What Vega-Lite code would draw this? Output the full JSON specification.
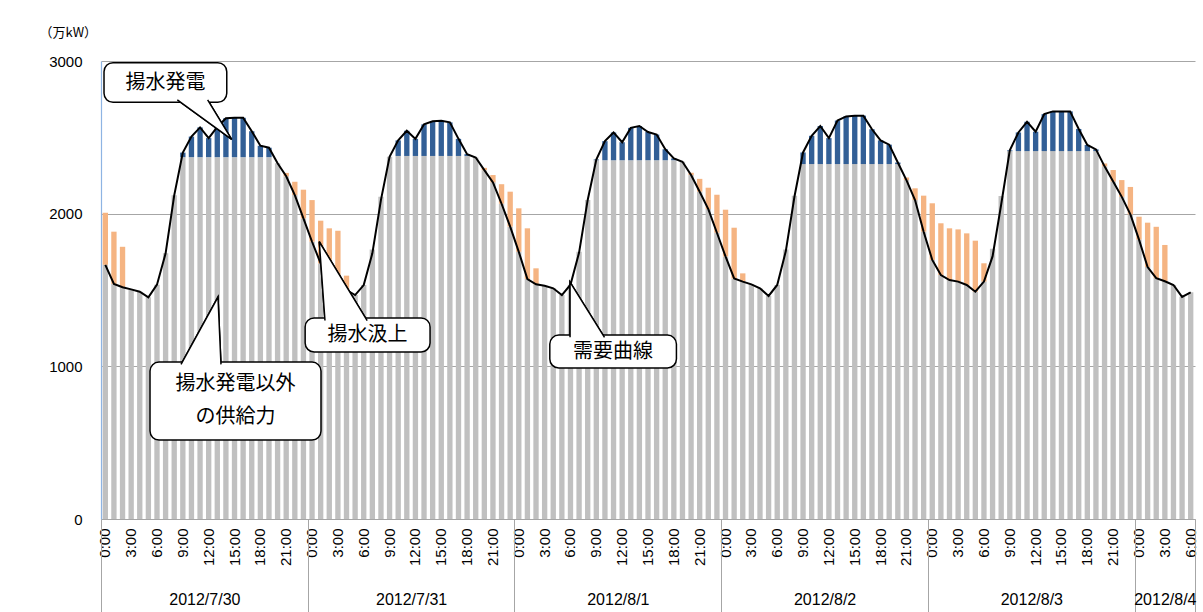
{
  "$schema": "https://vega.github.io/schema/vega-lite/v6.json",
  "width": 1094,
  "height": 458,
  "autosize": {"type": "none"},
  "padding": {"left": 101, "top": 61, "right": 8, "bottom": 93},
  "background": "white",
  "config": {
    "view": {"stroke": null},
    "font": "Liberation Sans",
    "axis": {"labelFont": "Liberation Sans", "labelColor": "black", "titleFont": "Noto Sans CJK JP"}
  },
  "datasets": {
    "hourly": [
      {"t":"2012/7/30 0:00","gray":1665,"pumpGen":0,"pumpUp":341,"demand":1665},
      {"t":"2012/7/30 1:00","gray":1540,"pumpGen":0,"pumpUp":342,"demand":1540},
      {"t":"2012/7/30 2:00","gray":1518,"pumpGen":0,"pumpUp":265,"demand":1518},
      {"t":"2012/7/30 3:00","gray":1504,"pumpGen":0,"pumpUp":0,"demand":1504},
      {"t":"2012/7/30 4:00","gray":1489,"pumpGen":0,"pumpUp":0,"demand":1489},
      {"t":"2012/7/30 5:00","gray":1452,"pumpGen":0,"pumpUp":0,"demand":1452},
      {"t":"2012/7/30 6:00","gray":1535,"pumpGen":0,"pumpUp":0,"demand":1535},
      {"t":"2012/7/30 7:00","gray":1740,"pumpGen":0,"pumpUp":0,"demand":1740},
      {"t":"2012/7/30 8:00","gray":2120,"pumpGen":0,"pumpUp":0,"demand":2120},
      {"t":"2012/7/30 9:00","gray":2370,"pumpGen":30,"pumpUp":0,"demand":2400},
      {"t":"2012/7/30 10:00","gray":2370,"pumpGen":135,"pumpUp":0,"demand":2505},
      {"t":"2012/7/30 11:00","gray":2370,"pumpGen":195,"pumpUp":0,"demand":2565},
      {"t":"2012/7/30 12:00","gray":2370,"pumpGen":125,"pumpUp":0,"demand":2495},
      {"t":"2012/7/30 13:00","gray":2370,"pumpGen":198,"pumpUp":0,"demand":2568},
      {"t":"2012/7/30 14:00","gray":2370,"pumpGen":255,"pumpUp":0,"demand":2625},
      {"t":"2012/7/30 15:00","gray":2370,"pumpGen":258,"pumpUp":0,"demand":2628},
      {"t":"2012/7/30 16:00","gray":2370,"pumpGen":258,"pumpUp":0,"demand":2628},
      {"t":"2012/7/30 17:00","gray":2370,"pumpGen":170,"pumpUp":0,"demand":2540},
      {"t":"2012/7/30 18:00","gray":2370,"pumpGen":75,"pumpUp":0,"demand":2445},
      {"t":"2012/7/30 19:00","gray":2370,"pumpGen":62,"pumpUp":0,"demand":2432},
      {"t":"2012/7/30 20:00","gray":2330,"pumpGen":0,"pumpUp":0,"demand":2330},
      {"t":"2012/7/30 21:00","gray":2245,"pumpGen":0,"pumpUp":22,"demand":2245},
      {"t":"2012/7/30 22:00","gray":2122,"pumpGen":0,"pumpUp":87,"demand":2122},
      {"t":"2012/7/30 23:00","gray":1969,"pumpGen":0,"pumpUp":188,"demand":1969},
      {"t":"2012/7/31 0:00","gray":1816,"pumpGen":0,"pumpUp":273,"demand":1816},
      {"t":"2012/7/31 1:00","gray":1674,"pumpGen":0,"pumpUp":280,"demand":1674},
      {"t":"2012/7/31 2:00","gray":1590,"pumpGen":0,"pumpUp":314,"demand":1590},
      {"t":"2012/7/31 3:00","gray":1530,"pumpGen":0,"pumpUp":358,"demand":1530},
      {"t":"2012/7/31 4:00","gray":1500,"pumpGen":0,"pumpUp":94,"demand":1500},
      {"t":"2012/7/31 5:00","gray":1467,"pumpGen":0,"pumpUp":0,"demand":1467},
      {"t":"2012/7/31 6:00","gray":1532,"pumpGen":0,"pumpUp":0,"demand":1532},
      {"t":"2012/7/31 7:00","gray":1766,"pumpGen":0,"pumpUp":0,"demand":1740},
      {"t":"2012/7/31 8:00","gray":2110,"pumpGen":0,"pumpUp":0,"demand":2090},
      {"t":"2012/7/31 9:00","gray":2373,"pumpGen":0,"pumpUp":0,"demand":2373},
      {"t":"2012/7/31 10:00","gray":2378,"pumpGen":102,"pumpUp":0,"demand":2480},
      {"t":"2012/7/31 11:00","gray":2378,"pumpGen":165,"pumpUp":0,"demand":2543},
      {"t":"2012/7/31 12:00","gray":2378,"pumpGen":112,"pumpUp":0,"demand":2490},
      {"t":"2012/7/31 13:00","gray":2378,"pumpGen":207,"pumpUp":0,"demand":2585},
      {"t":"2012/7/31 14:00","gray":2378,"pumpGen":227,"pumpUp":0,"demand":2605},
      {"t":"2012/7/31 15:00","gray":2378,"pumpGen":231,"pumpUp":0,"demand":2609},
      {"t":"2012/7/31 16:00","gray":2378,"pumpGen":220,"pumpUp":0,"demand":2598},
      {"t":"2012/7/31 17:00","gray":2378,"pumpGen":112,"pumpUp":0,"demand":2490},
      {"t":"2012/7/31 18:00","gray":2378,"pumpGen":12,"pumpUp":0,"demand":2390},
      {"t":"2012/7/31 19:00","gray":2368,"pumpGen":0,"pumpUp":0,"demand":2368},
      {"t":"2012/7/31 20:00","gray":2285,"pumpGen":0,"pumpUp":15,"demand":2285},
      {"t":"2012/7/31 21:00","gray":2205,"pumpGen":0,"pumpUp":48,"demand":2205},
      {"t":"2012/7/31 22:00","gray":2065,"pumpGen":0,"pumpUp":128,"demand":2065},
      {"t":"2012/7/31 23:00","gray":1915,"pumpGen":0,"pumpUp":229,"demand":1915},
      {"t":"2012/8/1 0:00","gray":1750,"pumpGen":0,"pumpUp":285,"demand":1750},
      {"t":"2012/8/1 1:00","gray":1572,"pumpGen":0,"pumpUp":332,"demand":1572},
      {"t":"2012/8/1 2:00","gray":1537,"pumpGen":0,"pumpUp":105,"demand":1537},
      {"t":"2012/8/1 3:00","gray":1528,"pumpGen":0,"pumpUp":0,"demand":1528},
      {"t":"2012/8/1 4:00","gray":1511,"pumpGen":0,"pumpUp":0,"demand":1511},
      {"t":"2012/8/1 5:00","gray":1467,"pumpGen":0,"pumpUp":0,"demand":1467},
      {"t":"2012/8/1 6:00","gray":1535,"pumpGen":0,"pumpUp":0,"demand":1535},
      {"t":"2012/8/1 7:00","gray":1750,"pumpGen":0,"pumpUp":0,"demand":1745},
      {"t":"2012/8/1 8:00","gray":2090,"pumpGen":0,"pumpUp":0,"demand":2090},
      {"t":"2012/8/1 9:00","gray":2350,"pumpGen":5,"pumpUp":0,"demand":2355},
      {"t":"2012/8/1 10:00","gray":2350,"pumpGen":125,"pumpUp":0,"demand":2475},
      {"t":"2012/8/1 11:00","gray":2350,"pumpGen":182,"pumpUp":0,"demand":2532},
      {"t":"2012/8/1 12:00","gray":2350,"pumpGen":118,"pumpUp":0,"demand":2468},
      {"t":"2012/8/1 13:00","gray":2350,"pumpGen":212,"pumpUp":0,"demand":2562},
      {"t":"2012/8/1 14:00","gray":2350,"pumpGen":224,"pumpUp":0,"demand":2574},
      {"t":"2012/8/1 15:00","gray":2350,"pumpGen":185,"pumpUp":0,"demand":2535},
      {"t":"2012/8/1 16:00","gray":2350,"pumpGen":168,"pumpUp":0,"demand":2518},
      {"t":"2012/8/1 17:00","gray":2350,"pumpGen":72,"pumpUp":0,"demand":2422},
      {"t":"2012/8/1 18:00","gray":2350,"pumpGen":12,"pumpUp":0,"demand":2362},
      {"t":"2012/8/1 19:00","gray":2340,"pumpGen":0,"pumpUp":0,"demand":2340},
      {"t":"2012/8/1 20:00","gray":2253,"pumpGen":0,"pumpUp":15,"demand":2253},
      {"t":"2012/8/1 21:00","gray":2144,"pumpGen":0,"pumpUp":84,"demand":2144},
      {"t":"2012/8/1 22:00","gray":2030,"pumpGen":0,"pumpUp":140,"demand":2030},
      {"t":"2012/8/1 23:00","gray":1875,"pumpGen":0,"pumpUp":249,"demand":1875},
      {"t":"2012/8/2 0:00","gray":1720,"pumpGen":0,"pumpUp":306,"demand":1720},
      {"t":"2012/8/2 1:00","gray":1576,"pumpGen":0,"pumpUp":332,"demand":1576},
      {"t":"2012/8/2 2:00","gray":1555,"pumpGen":0,"pumpUp":54,"demand":1555},
      {"t":"2012/8/2 3:00","gray":1537,"pumpGen":0,"pumpUp":0,"demand":1537},
      {"t":"2012/8/2 4:00","gray":1511,"pumpGen":0,"pumpUp":0,"demand":1511},
      {"t":"2012/8/2 5:00","gray":1461,"pumpGen":0,"pumpUp":0,"demand":1461},
      {"t":"2012/8/2 6:00","gray":1533,"pumpGen":0,"pumpUp":0,"demand":1533},
      {"t":"2012/8/2 7:00","gray":1766,"pumpGen":0,"pumpUp":0,"demand":1755},
      {"t":"2012/8/2 8:00","gray":2117,"pumpGen":0,"pumpUp":0,"demand":2111},
      {"t":"2012/8/2 9:00","gray":2325,"pumpGen":76,"pumpUp":0,"demand":2401},
      {"t":"2012/8/2 10:00","gray":2325,"pumpGen":185,"pumpUp":0,"demand":2510},
      {"t":"2012/8/2 11:00","gray":2325,"pumpGen":249,"pumpUp":0,"demand":2574},
      {"t":"2012/8/2 12:00","gray":2325,"pumpGen":170,"pumpUp":0,"demand":2495},
      {"t":"2012/8/2 13:00","gray":2325,"pumpGen":285,"pumpUp":0,"demand":2610},
      {"t":"2012/8/2 14:00","gray":2325,"pumpGen":312,"pumpUp":0,"demand":2637},
      {"t":"2012/8/2 15:00","gray":2325,"pumpGen":317,"pumpUp":0,"demand":2642},
      {"t":"2012/8/2 16:00","gray":2325,"pumpGen":317,"pumpUp":0,"demand":2642},
      {"t":"2012/8/2 17:00","gray":2325,"pumpGen":228,"pumpUp":0,"demand":2553},
      {"t":"2012/8/2 18:00","gray":2325,"pumpGen":155,"pumpUp":0,"demand":2480},
      {"t":"2012/8/2 19:00","gray":2325,"pumpGen":127,"pumpUp":0,"demand":2452},
      {"t":"2012/8/2 20:00","gray":2325,"pumpGen":10,"pumpUp":0,"demand":2335},
      {"t":"2012/8/2 21:00","gray":2220,"pumpGen":0,"pumpUp":17,"demand":2220},
      {"t":"2012/8/2 22:00","gray":2089,"pumpGen":0,"pumpUp":77,"demand":2089},
      {"t":"2012/8/2 23:00","gray":1882,"pumpGen":0,"pumpUp":236,"demand":1882},
      {"t":"2012/8/3 0:00","gray":1697,"pumpGen":0,"pumpUp":371,"demand":1697},
      {"t":"2012/8/3 1:00","gray":1598,"pumpGen":0,"pumpUp":339,"demand":1598},
      {"t":"2012/8/3 2:00","gray":1565,"pumpGen":0,"pumpUp":339,"demand":1565},
      {"t":"2012/8/3 3:00","gray":1555,"pumpGen":0,"pumpUp":342,"demand":1555},
      {"t":"2012/8/3 4:00","gray":1533,"pumpGen":0,"pumpUp":338,"demand":1533},
      {"t":"2012/8/3 5:00","gray":1489,"pumpGen":0,"pumpUp":334,"demand":1489},
      {"t":"2012/8/3 6:00","gray":1555,"pumpGen":0,"pumpUp":120,"demand":1555},
      {"t":"2012/8/3 7:00","gray":1770,"pumpGen":0,"pumpUp":0,"demand":1720},
      {"t":"2012/8/3 8:00","gray":2115,"pumpGen":0,"pumpUp":0,"demand":2060},
      {"t":"2012/8/3 9:00","gray":2410,"pumpGen":5,"pumpUp":0,"demand":2415},
      {"t":"2012/8/3 10:00","gray":2410,"pumpGen":122,"pumpUp":0,"demand":2532},
      {"t":"2012/8/3 11:00","gray":2410,"pumpGen":192,"pumpUp":0,"demand":2602},
      {"t":"2012/8/3 12:00","gray":2410,"pumpGen":127,"pumpUp":0,"demand":2537},
      {"t":"2012/8/3 13:00","gray":2410,"pumpGen":242,"pumpUp":0,"demand":2652},
      {"t":"2012/8/3 14:00","gray":2410,"pumpGen":260,"pumpUp":0,"demand":2670},
      {"t":"2012/8/3 15:00","gray":2410,"pumpGen":260,"pumpUp":0,"demand":2670},
      {"t":"2012/8/3 16:00","gray":2410,"pumpGen":260,"pumpUp":0,"demand":2670},
      {"t":"2012/8/3 17:00","gray":2410,"pumpGen":145,"pumpUp":0,"demand":2555},
      {"t":"2012/8/3 18:00","gray":2410,"pumpGen":40,"pumpUp":0,"demand":2450},
      {"t":"2012/8/3 19:00","gray":2410,"pumpGen":11,"pumpUp":0,"demand":2421},
      {"t":"2012/8/3 20:00","gray":2310,"pumpGen":0,"pumpUp":19,"demand":2310},
      {"t":"2012/8/3 21:00","gray":2210,"pumpGen":0,"pumpUp":76,"demand":2210},
      {"t":"2012/8/3 22:00","gray":2110,"pumpGen":0,"pumpUp":110,"demand":2110},
      {"t":"2012/8/3 23:00","gray":1995,"pumpGen":0,"pumpUp":180,"demand":1995},
      {"t":"2012/8/4 0:00","gray":1830,"pumpGen":0,"pumpUp":150,"demand":1830},
      {"t":"2012/8/4 1:00","gray":1650,"pumpGen":0,"pumpUp":291,"demand":1650},
      {"t":"2012/8/4 2:00","gray":1578,"pumpGen":0,"pumpUp":336,"demand":1578},
      {"t":"2012/8/4 3:00","gray":1557,"pumpGen":0,"pumpUp":238,"demand":1557},
      {"t":"2012/8/4 4:00","gray":1533,"pumpGen":0,"pumpUp":0,"demand":1533},
      {"t":"2012/8/4 5:00","gray":1455,"pumpGen":0,"pumpUp":0,"demand":1455},
      {"t":"2012/8/4 6:00","gray":1485,"pumpGen":0,"pumpUp":0,"demand":1485}
    ],
    "callouts": [
      {"label":"揚水発電","x0":0.35,"x1":14.6,"y0":2729,"y1":2989,"tx":7.5,"ty":2858},
      {"label":"揚水汲上","x0":23.7,"x1":38.2,"y0":1094,"y1":1317,"tx":30.95,"ty":1205},
      {"label":"需要曲線","x0":52.1,"x1":66.8,"y0":989,"y1":1205,"tx":59.45,"ty":1097},
      {"label":"揚水発電以外\nの供給力","x0":5.69,"x1":25.54,"y0":517,"y1":1028,"tx":15.6,"ty":884}
    ],
    "wedges": [
      {"callout":"a","ord":1,"x":8.86,"y":2745},
      {"callout":"a","ord":2,"x":15.17,"y":2487},
      {"callout":"a","ord":3,"x":12.38,"y":2745},
      {"callout":"b","ord":1,"x":26.0,"y":1300},
      {"callout":"b","ord":2,"x":25.34,"y":1816},
      {"callout":"b","ord":3,"x":30.9,"y":1300},
      {"callout":"c","ord":1,"x":54.45,"y":1190},
      {"callout":"c","ord":2,"x":54.45,"y":1552},
      {"callout":"c","ord":3,"x":58.45,"y":1190},
      {"callout":"d","ord":1,"x":9.29,"y":1013},
      {"callout":"d","ord":2,"x":13.58,"y":1454},
      {"callout":"d","ord":3,"x":13.93,"y":1013}
    ]
  },
  "layer": [
    {
      "data": {"name": "hourly"},
      "layer": [
        {
          "transform": [{"fold": ["gray", "pumpGen", "pumpUp"], "as": ["series", "value"]}],
          "mark": {"type": "bar", "width": {"band": 0.62}},
          "encoding": {
            "x": {
              "field": "t", "type": "nominal", "sort": null,
              "scale": {"paddingInner": 0, "paddingOuter": 0},
              "axis": {
                "orient": "bottom", "title": null, "ticks": false,
                "domainColor": "#a6a6a6", "domainWidth": 1,
                "labelAngle": -90, "labelFontSize": 15, "labelPadding": 9,
                "labelOverlap": false,
                "labelExpr": "parseInt(split(split(datum.value, ' ')[1], ':')[0]) % 3 == 0 ? split(datum.value, ' ')[1] : ''"
              }
            },
            "y": {
              "field": "value", "type": "quantitative", "stack": "zero",
              "title": "（万kW）",
              "scale": {"domain": [0, 3000], "nice": false},
              "axis": {
                "values": [0, 1000, 2000, 3000], "format": "d", "ticks": false,
                "grid": true, "gridColor": "#a6a6a6", "gridWidth": 1,
                "domainColor": "#8eb4e3", "domainWidth": 1.2,
                "labelFontSize": 15, "labelPadding": 19,
                "title": "（万kW）", "titleAngle": 0, "titleAlign": "left",
                "titleBaseline": "middle", "titleX": -62, "titleY": -29,
                "titleFontSize": 13, "titleFontWeight": "normal", "titleColor": "black"
              }
            },
            "color": {
              "field": "series", "type": "nominal",
              "scale": {"domain": ["gray", "pumpGen", "pumpUp"], "range": ["#c0c0c0", "#325f96", "#f5b482"]},
              "legend": null
            },
            "order": {"field": "series"}
          }
        },
        {
          "mark": {"type": "line", "color": "black", "strokeWidth": 2},
          "encoding": {
            "x": {"field": "t", "type": "nominal", "sort": null},
            "y": {"field": "demand", "type": "quantitative", "title": "（万kW）"}
          }
        }
      ]
    },
    {
      "layer": [
        {
          "data": {"name": "wedges"},
          "mark": {"type": "line", "color": "black", "strokeWidth": 1.5, "fill": "white"},
          "encoding": {
            "x": {
              "field": "x", "type": "quantitative",
              "scale": {"domain": [0, 127], "nice": false, "zero": false},
              "axis": {
                "orient": "bottom", "title": null, "grid": false, "domain": false,
                "values": [0, 12, 24, 36, 48, 60, 72, 84, 96, 108, 120, 123.5, 127],
                "tickSize": 93, "tickWidth": 1,
                "tickColor": {"condition": {"test": "datum.value % 24 == 0 || datum.value == 127", "value": "#a6a6a6"}, "value": "transparent"},
                "labelPadding": -21, "labelFontSize": 16, "labelFlush": false, "labelOverlap": false, "labelBound": false,
                "labelExpr": "datum.value == 12 ? '2012/7/30' : datum.value == 36 ? '2012/7/31' : datum.value == 60 ? '2012/8/1' : datum.value == 84 ? '2012/8/2' : datum.value == 108 ? '2012/8/3' : datum.value == 123.5 ? '2012/8/4' : ''"
              }
            },
            "y": {"field": "y", "type": "quantitative", "title": "（万kW）", "scale": {"domain": [0, 3000], "nice": false}},
            "detail": {"field": "callout"},
            "order": {"field": "ord"}
          }
        },
        {
          "data": {"name": "callouts"},
          "mark": {"type": "rect", "fill": "white", "stroke": "black", "strokeWidth": 1.5, "cornerRadius": 9},
          "encoding": {
            "x": {"field": "x0", "type": "quantitative", "title": null, "scale": {"domain": [0, 127], "nice": false, "zero": false}},
            "x2": {"field": "x1"},
            "y": {"field": "y0", "type": "quantitative", "title": "（万kW）", "scale": {"domain": [0, 3000], "nice": false}},
            "y2": {"field": "y1"}
          }
        },
        {
          "data": {"name": "wedges"},
          "mark": {"type": "line", "color": "black", "strokeWidth": 1.5, "fill": "white"},
          "encoding": {
            "x": {"field": "x", "type": "quantitative", "title": null, "scale": {"domain": [0, 127], "nice": false, "zero": false}},
            "y": {"field": "y", "type": "quantitative", "title": "（万kW）", "scale": {"domain": [0, 3000], "nice": false}},
            "detail": {"field": "callout"},
            "order": {"field": "ord"}
          }
        },
        {
          "data": {"name": "callouts"},
          "mark": {"type": "text", "font": "Noto Sans CJK JP", "fontSize": 20, "color": "black", "lineBreak": "\n", "lineHeight": 33, "align": "center", "baseline": "middle"},
          "encoding": {
            "x": {"field": "tx", "type": "quantitative", "title": null, "scale": {"domain": [0, 127], "nice": false, "zero": false}},
            "y": {"field": "ty", "type": "quantitative", "title": "（万kW）", "scale": {"domain": [0, 3000], "nice": false}},
            "text": {"field": "label"}
          }
        }
      ]
    }
  ],
  "resolve": {"scale": {"x": "independent"}, "axis": {"x": "independent"}}
}
